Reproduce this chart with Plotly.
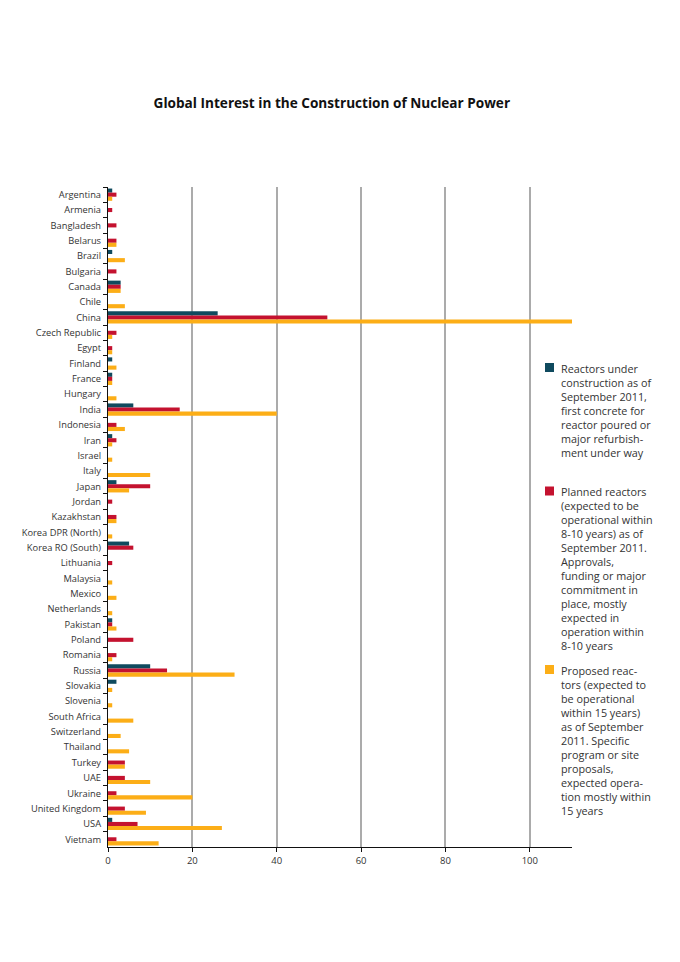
import plotly.graph_objects as go

countries = ["Argentina", "Armenia", "Bangladesh", "Belarus", "Brazil", "Bulgaria", "Canada", "Chile",
             "China", "Czech Republic", "Egypt", "Finland", "France", "Hungary", "India", "Indonesia",
             "Iran", "Israel", "Italy", "Japan", "Jordan", "Kazakhstan", "Korea DPR (North)",
             "Korea RO (South)", "Lithuania", "Malaysia", "Mexico", "Netherlands", "Pakistan", "Poland",
             "Romania", "Russia", "Slovakia", "Slovenia", "South Africa", "Switzerland", "Thailand",
             "Turkey", "UAE", "Ukraine", "United Kingdom", "USA", "Vietnam"]

under_construction = [1, 0, 0, 0, 1, 0, 3, 0, 26, 0, 0, 1, 1, 0, 6, 0, 1, 0, 0, 2, 0, 0, 0,
                      5, 0, 0, 0, 0, 1, 0, 0, 10, 2, 0, 0, 0, 0, 0, 0, 0, 0, 1, 0]
planned = [2, 1, 2, 2, 0, 2, 3, 0, 52, 2, 1, 0, 1, 0, 17, 2, 2, 0, 0, 10, 1, 2, 0,
           6, 1, 0, 0, 0, 1, 6, 2, 14, 0, 0, 0, 0, 0, 4, 4, 2, 4, 7, 2]
proposed = [1, 0, 0, 2, 4, 0, 3, 4, 110, 1, 1, 2, 1, 2, 40, 4, 1, 1, 10, 5, 0, 2, 1,
            0, 0, 1, 2, 1, 2, 0, 1, 30, 1, 1, 6, 3, 5, 4, 10, 20, 9, 27, 12]

series_names = [
    "Reactors under<br>construction as of<br>September 2011,<br>first concrete for<br>reactor poured or<br>major refurbish-<br>ment under way",
    "Planned reactors<br>(expected to be<br>operational within<br>8-10 years) as of<br>September 2011.<br>Approvals,<br>funding or major<br>commitment in<br>place, mostly<br>expected in<br>operation within<br>8-10 years",
    "Proposed reac-<br>tors (expected to<br>be operational<br>within 15 years)<br>as of September<br>2011. Specific<br>program or site<br>proposals,<br>expected opera-<br>tion mostly within<br>15 years",
]
colors = ["#0f4a5e", "#c4122f", "#fcae17"]
x_ticks = [0, 20, 40, 60, 80, 100]

# plot area in pixels (for placing the custom legend)
W, H = 680, 962
L, R, T, B = 108, 108, 187, 115
pw, ph = W - L - R, H - T - B


def px_x(x):
    return (x - L) / pw


def px_y(y):
    return (H - B - y) / ph


fig = go.Figure()
for vals, nm, col in zip([under_construction, planned, proposed], series_names, colors):
    fig.add_trace(go.Bar(
        y=countries, x=vals, orientation="h", name=nm.replace("<br>", " "),
        marker=dict(color=col, line=dict(width=0)),
    ))

legend_tops = [367.5, 491.0, 669.5]
FONT = "Open Sans, Liberation Sans, Arial, sans-serif"
for nm, col, ytop in zip(series_names, colors, legend_tops):
    fig.add_shape(type="rect", xref="paper", yref="paper",
                  x0=px_x(545), x1=px_x(554), y0=px_y(ytop - 4.5), y1=px_y(ytop + 4.5),
                  fillcolor=col, line=dict(width=0))
    fig.add_annotation(xref="paper", yref="paper", x=px_x(559), y=px_y(ytop - 9),
                       xanchor="left", yanchor="top", align="left", showarrow=False,
                       text=nm, font=dict(family=FONT, size=10.8, color="#333"))

fig.update_layout(
    width=W, height=H,
    margin=dict(l=L, r=R, t=T, b=B),
    paper_bgcolor="white", plot_bgcolor="white",
    barmode="group", bargap=0.2, bargroupgap=0,
    title=dict(text="<b>Global Interest in the Construction of Nuclear Power</b>",
               x=0.488, xanchor="center", y=1 - 103 / 962, yanchor="middle", yref="container",
               font=dict(family=FONT, size=13.6, color="#111")),
    font=dict(family=FONT, size=10, color="#333"),
    showlegend=False,
)
fig.update_xaxes(range=[0, 110], tickvals=x_ticks, showgrid=True, gridcolor="#ababab", gridwidth=1.5,
                 zeroline=False, showline=True, linecolor="#111", linewidth=1.2,
                 ticks="outside", ticklen=4, tickcolor="#111",
                 tickfont=dict(family=FONT, size=9.5, color="#333"))
fig.update_yaxes(autorange="reversed", showgrid=False, showline=True, linecolor="#111", linewidth=1.2,
                 ticks="outside", ticklen=4, tickcolor="#111", tickson="boundaries",
                 ticklabelstandoff=4,
                 tickfont=dict(family=FONT, size=9.3, color="#333"))

fig.write_html("out.html")
